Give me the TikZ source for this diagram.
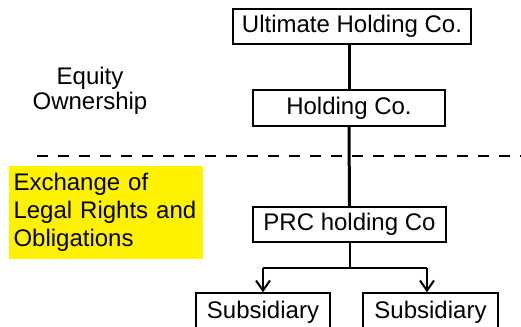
\documentclass[tikz,border=0pt]{standalone}
\usepackage{fontspec}
\setmainfont{Liberation Sans}
\usetikzlibrary{arrows.meta,positioning,calc}
\tikzset{
  blk/.style={draw, rectangle, line width=0.75pt, minimum height=17.5pt, align=center, font=\fontsize{12}{14}\selectfont, inner sep=0pt},
  note/.style={align=center, font=\fontsize{12}{12.5}\selectfont, inner sep=0pt},
  hilite/.style={fill=yellow, rectangle, minimum width=97pt, minimum height=46.5pt, text width=92.5pt, inner xsep=2.25pt, inner ysep=0pt, align=left, font=\fontsize{12}{14}\selectfont},
  trunk/.style={line width=1.5pt},
  arr/.style={-{Straight Barb[length=5pt, width=7pt]}, line width=1pt},
  divider/.style={dash pattern=on 5.5pt off 5pt, line width=1.2pt},
}
\begin{document}
\begin{tikzpicture}[x=0.5pt, y=-0.5pt]
\useasboundingbox (0,0) rectangle (521,327);

\node[blk, minimum width=119pt] (ult) at (352,26.5) {Ultimate Holding Co.};
\node[blk, minimum width=96pt, minimum height=18pt] (hold) at (349,108) {Holding Co.};
\node[blk, minimum width=96.5pt] (prc) at (349.5,224.5) {PRC holding Co};

\node[blk, minimum width=67pt, minimum height=19pt] (sub1) at (263,312) {Subsidiary};
\node[blk, minimum width=67.5pt, minimum height=19pt] (sub2) at (430.5,312) {Subsidiary};

\node[note] (equity) at (90,91) {Equity\\Ownership};
\node[hilite] (legal) at (106,212.5) {Exchange of\\Legal Rights and\\Obligations};

% ownership / rights boundary
\draw[divider] (37,156) -- (521,156);

\draw[trunk] (hold.north |- ult.south) -- (hold.north);
\draw[trunk] (hold.south) -- (prc.north);

\coordinate (bl) at (263,268);
\coordinate (br) at (427,268);
\draw[line width=1pt] (prc.south) -- (prc.south |- bl);
\draw[line width=1pt] (bl) -- (br);
\draw[arr] (bl) -- (bl |- sub1.north);
\draw[arr] (br) -- (br |- sub2.north);

\end{tikzpicture}
\end{document}
